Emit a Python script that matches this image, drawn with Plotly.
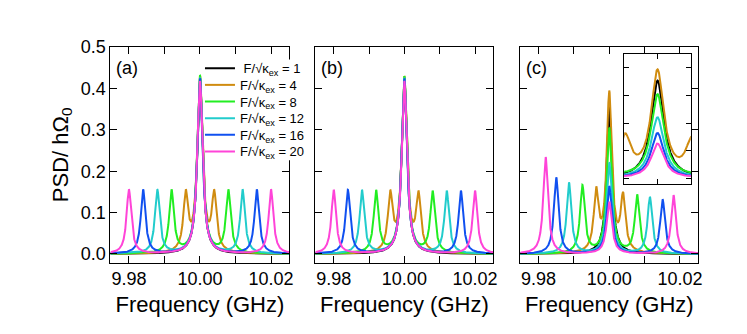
import numpy as np
import plotly.graph_objects as go

# ---------------- data ----------------
ratios = [1, 4, 8, 12, 16, 20]
trace_names = [" F/√κ<sub>ex</sub> = %d" % r if r == 1 else "F/√κ<sub>ex</sub> = %d" % r for r in ratios]
colors = ["#000000", "#D08C10", "#22EE22", "#22CCCC", "#1050F0", "#FF44D8"]

center_freq = 10.000          # GHz
gamma_center = 0.00088        # GHz, half width of the central peak
gamma_side = 0.00080          # GHz, half width of the side peaks

# panel (a)
a_center_h = [0.425, 0.432, 0.432, 0.426, 0.424, 0.418]
a_left_pos = [None, 9.996, 9.992, 9.988, 9.984, 9.980]
a_left_h = [0.0, 0.156, 0.156, 0.156, 0.156, 0.156]
a_right_pos = [None, 10.004, 10.008, 10.012, 10.016, 10.020]
a_right_h = [0.0, 0.156, 0.156, 0.156, 0.156, 0.156]

# panel (b)
b_center_h = [0.425, 0.430, 0.430, 0.425, 0.423, 0.418]
b_left_pos = [None, 9.996, 9.992, 9.988, 9.984, 9.980]
b_left_h = [0.0, 0.155, 0.155, 0.155, 0.155, 0.155]
b_right_pos = [None, 10.004, 10.008, 10.012, 10.016, 10.020]
b_right_h = [0.0, 0.153, 0.153, 0.153, 0.153, 0.153]

# panel (c)
c_center_h = [0.354, 0.395, 0.305, 0.221, 0.164, 0.126]
c_left_pos = [None, 9.9963, 9.9924, 9.9886, 9.9850, 9.9820]
c_left_h = [0.0, 0.163, 0.167, 0.173, 0.185, 0.234]
c_right_pos = [None, 10.0039, 10.0079, 10.0115, 10.0151, 10.0182]
c_right_h = [0.0, 0.150, 0.144, 0.138, 0.132, 0.142]

x_ticks = [9.98, 9.99, 10.00, 10.01, 10.02]
x_tick_text = ["9.98", "", "10.00", "", "10.02"]
y_ticks = [0.0, 0.1, 0.2, 0.3, 0.4, 0.5]
y_tick_text = ["0.0", "0.1", "0.2", "0.3", "0.4", "0.5"]
panel_labels = ["(a)", "(b)", "(c)"]

x_range = [9.9748, 10.0252]
y_range = [-0.021, 0.5]
inset_x_range = [9.9962, 10.0038]
inset_y_range = [-0.021, 0.45]
inset_y_ticks = [0.0, 0.1, 0.2, 0.3, 0.4]

freq = np.linspace(x_range[0], x_range[1], 4001)


def spectrum(x, pos, hts, gams):
    """Sum of Lorentzians whose summed peak values equal the read heights."""
    pos = np.array(pos, float)
    hts = np.array(hts, float)
    gams = np.array(gams, float)
    K = 1.0 / (1.0 + ((pos[:, None] - pos[None, :]) / gams[None, :]) ** 2)
    amps = np.linalg.solve(K, hts)
    y = np.zeros_like(x)
    for p, a, g in zip(pos, amps, gams):
        y += a / (1.0 + ((x - p) / g) ** 2)
    return y


def panel_curves(ch, lp, lh, rp, rh):
    out = []
    for i in range(len(ratios)):
        pos = [center_freq]
        hts = [ch[i]]
        gams = [gamma_center]
        if lp[i] is not None and lh[i] > 0:
            pos.append(lp[i]); hts.append(lh[i]); gams.append(gamma_side)
        if rp[i] is not None and rh[i] > 0:
            pos.append(rp[i]); hts.append(rh[i]); gams.append(gamma_side)
        out.append(spectrum(freq, pos, hts, gams))
    return out


panels = [
    panel_curves(a_center_h, a_left_pos, a_left_h, a_right_pos, a_right_h),
    panel_curves(b_center_h, b_left_pos, b_left_h, b_right_pos, b_right_h),
    panel_curves(c_center_h, c_left_pos, c_left_h, c_right_pos, c_right_h),
]

# ---------------- figure ----------------
W, H = 747, 334
fig = go.Figure()

panel_px = [(103, 283), (309, 488), (515, 694)]
y_dom = [1 - 253 / H, 1 - 30 / H]
font_family = "Liberation Sans, Arial, sans-serif"
legend_keys = ["legend", "legend2", "legend3", "legend4", "legend5", "legend6"]
legend_rows_px = [52, 69.2, 86.4, 103.6, 120.8, 138]
line_w = 2.0

for p, curves in enumerate(panels):
    xa = "x" if p == 0 else "x%d" % (p + 1)
    ya = "y" if p == 0 else "y%d" % (p + 1)
    for i, yv in enumerate(curves):
        fig.add_trace(go.Scatter(
            x=freq, y=yv, mode="lines", name=trace_names[i],
            line=dict(color=colors[i], width=line_w),
            showlegend=(p == 0), legend=legend_keys[i],
            xaxis=xa, yaxis=ya, hoverinfo="skip"))

# inset in panel (c)
for i, yv in enumerate(panels[2]):
    fig.add_trace(go.Scatter(
        x=freq, y=yv, mode="lines", name=trace_names[i],
        line=dict(color=colors[i], width=line_w),
        showlegend=False, xaxis="x4", yaxis="y4", hoverinfo="skip"))

axis_common = dict(showline=True, linecolor="black", linewidth=1, mirror="ticks",
                   ticks="inside", tickcolor="black", tickwidth=1, showgrid=False,
                   zeroline=False)

layout = dict(
    width=W, height=H, margin=dict(l=0, r=0, t=0, b=0),
    paper_bgcolor="white", plot_bgcolor="white",
    font=dict(family=font_family, size=18, color="black"),
    showlegend=True,
)

for i, key in enumerate(legend_keys):
    layout[key] = dict(x=193 / W, y=1 - legend_rows_px[i] / H, xanchor="left", yanchor="middle",
                       bgcolor="rgba(255,255,255,0)", borderwidth=0,
                       font=dict(size=13, family=font_family), itemwidth=30)

for p, (x0, x1) in enumerate(panel_px):
    xk = "xaxis" if p == 0 else "xaxis%d" % (p + 1)
    yk = "yaxis" if p == 0 else "yaxis%d" % (p + 1)
    ya = "y" if p == 0 else "y%d" % (p + 1)
    xa = "x" if p == 0 else "x%d" % (p + 1)
    layout[xk] = dict(axis_common, domain=[x0 / W, x1 / W], range=x_range, anchor=ya,
                      tickvals=x_ticks, ticktext=x_tick_text, ticklen=7,
                      title=dict(text="Frequency (GHz)", standoff=8))
    layout[yk] = dict(axis_common, domain=y_dom, range=y_range, anchor=xa,
                      tickvals=y_ticks, ticktext=y_tick_text, ticklen=7,
                      showticklabels=(p == 0))
    if p == 0:
        layout[yk]["title"] = dict(text="PSD/ hΩ<sub>0</sub>", standoff=6)

layout["xaxis4"] = dict(axis_common, domain=[619.5 / W, 686.5 / W], range=inset_x_range,
                        anchor="y4", tickvals=[10.0], showticklabels=False, ticklen=5)
layout["yaxis4"] = dict(axis_common, domain=[1 - 171.7 / H, 1 - 37.3 / H], range=inset_y_range,
                        anchor="x4", tickvals=inset_y_ticks, showticklabels=False, ticklen=5)

annotations = []
for p, (x0, x1) in enumerate(panel_px):
    annotations.append(dict(text=panel_labels[p], x=(x0 + 4) / W, y=1 - 52 / H,
                            xref="paper", yref="paper", xanchor="left", yanchor="middle",
                            showarrow=False, font=dict(size=18, family=font_family)))
layout["annotations"] = annotations

# white backing behind the legend block (hides the frame under the legend text)
layout["shapes"] = [dict(type="rect", xref="paper", yref="paper", layer="above",
                         x0=200 / W, x1=302 / W, y0=1 - 147 / H, y1=1 - 43 / H,
                         fillcolor="white", line=dict(width=0))]

fig.update_layout(**layout)
fig.write_html("out.html")
